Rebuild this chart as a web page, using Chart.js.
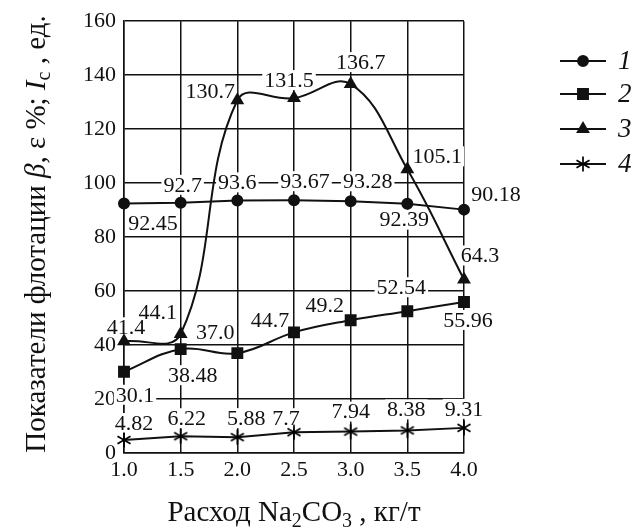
<!DOCTYPE html>
<html>
<head>
<meta charset="utf-8">
<script src="https://cdn.jsdelivr.net/npm/chart.js@4/dist/chart.umd.min.js"></script>
<style>
  html, body { margin: 0; padding: 0; background: #fff; }
  #wrap { width: 636px; height: 530px; }
</style>
</head>
<body>
<div id="wrap"><canvas id="chart" width="636" height="530"></canvas></div>
<script>
// data
const doses = ['1.0', '1.5', '2.0', '2.5', '3.0', '3.5', '4.0'];
const series1 = [92.45, 92.7, 93.6, 93.67, 93.28, 92.39, 90.18];
const series2 = [30.1, 38.48, 37.0, 44.7, 49.2, 52.54, 55.96];
const series3 = [41.4, 44.1, 130.7, 131.5, 136.7, 105.1, 64.3];
const series4 = [4.82, 6.22, 5.88, 7.7, 7.94, 8.38, 9.31];
const seriesNames = ['1', '2', '3', '4'];
const labels1 = ['92.45', '92.7', '93.6', '93.67', '93.28', '92.39', '90.18'];
const labels2 = ['30.1', '38.48', '37.0', '44.7', '49.2', '52.54', '55.96'];
const labels3 = ['41.4', '44.1', '130.7', '131.5', '136.7', '105.1', '64.3'];
const labels4 = ['4.82', '6.22', '5.88', '7.7', '7.94', '8.38', '9.31'];

// where each value label sits relative to its point (px)
const offsets1 = [[29, 20], [2, -18], [0, -18], [11, -19], [17, -20], [-3, 16], [32, -15]];
const offsets2 = [[11, 23], [12, 26], [-22, -21], [-24, -12], [-26, -15], [-6, -24], [4, 18]];
const offsets3 = [[2, -14], [-23, -22], [-27, -9], [-5, -18], [10, -22], [30, -13], [16, -24]];
const offsets4 = [[10, -17], [6, -18], [9, -19], [-8, -14], [0, -20], [-1, -21], [0, -19]];

const serif = '"Liberation Serif", "Times New Roman", serif';

// six-armed asterisk marker
function makeAsterisk() {
  const c = document.createElement('canvas');
  c.width = 18; c.height = 18;
  const g = c.getContext('2d');
  g.strokeStyle = '#000';
  g.lineWidth = 1.7;
  const r = 7.5;
  [90, 30, 150].forEach(a => {
    const rad = a * Math.PI / 180;
    g.beginPath();
    g.moveTo(9 - r * Math.cos(rad), 9 - r * Math.sin(rad));
    g.lineTo(9 + r * Math.cos(rad), 9 + r * Math.sin(rad));
    g.stroke();
  });
  return c;
}
const asterisk = makeAsterisk();

const valueLabels = [labels1, labels2, labels3, labels4];
const valueOffsets = [offsets1, offsets2, offsets3, offsets4];

const labelPlugin = {
  id: 'valueLabels',
  beforeDatasetsDraw(chart) {
    const ctx = chart.ctx;
    ctx.save();
    ctx.font = '22px ' + serif;
    ctx.fillStyle = '#fff';
    chart.data.datasets.forEach((ds, i) => {
      const meta = chart.getDatasetMeta(i);
      meta.data.forEach((pt, j) => {
        const txt = valueLabels[i][j];
        const w = ctx.measureText(txt).width;
        const x = pt.x + valueOffsets[i][j][0];
        const y = pt.y + valueOffsets[i][j][1];
        ctx.fillRect(x - w / 2 - 2, y - 10, w + 4, 20);
      });
    });
    ctx.restore();
  },
  afterDatasetsDraw(chart) {
    const ctx = chart.ctx;
    ctx.save();
    ctx.font = '22px ' + serif;
    ctx.fillStyle = '#111';
    ctx.textAlign = 'center';
    ctx.textBaseline = 'middle';
    chart.data.datasets.forEach((ds, i) => {
      const meta = chart.getDatasetMeta(i);
      meta.data.forEach((pt, j) => {
        const x = pt.x + valueOffsets[i][j][0];
        const y = pt.y + valueOffsets[i][j][1];
        ctx.fillText(valueLabels[i][j], x, y + 1);
      });
    });
    ctx.restore();
  }
};

// draws text made of pieces: [text, font, dy]
function drawPieces(ctx, pieces, cx, y) {
  let total = 0;
  pieces.forEach(p => { ctx.font = p[1]; total += ctx.measureText(p[0]).width; });
  let x = cx - total / 2;
  pieces.forEach(p => {
    ctx.font = p[1];
    ctx.fillText(p[0], x, y + (p[2] || 0));
    x += ctx.measureText(p[0]).width;
  });
}

const decorPlugin = {
  id: 'decor',
  afterDraw(chart) {
    const ctx = chart.ctx;
    const area = chart.chartArea;
    ctx.save();
    ctx.fillStyle = '#111';
    ctx.textAlign = 'left';
    ctx.textBaseline = 'alphabetic';

    const big = '29px ' + serif;
    const bigIt = 'italic 29px ' + serif;
    const sub = '20px ' + serif;

    // x title
    drawPieces(ctx, [
      ['Расход Na', big], ['2', sub, 6], ['CO', big], ['3', sub, 6], [' , кг/т', big]
    ], (area.left + area.right) / 2, 521);

    // y title
    ctx.save();
    ctx.translate(45, 234);
    ctx.rotate(-Math.PI / 2);
    drawPieces(ctx, [
      ['Показатели флотации ', big], ['β', bigIt], [', ε %; ', big],
      ['I', bigIt], ['c', sub, 5], [' , ед.', big]
    ], 0, 0);
    ctx.restore();

    // legend
    const rows = [61, 94, 129, 164];
    const styles = chart.data.datasets.map(d => d.pointStyle);
    const radii = chart.data.datasets.map(d => d.pointRadius);
    rows.forEach((y, i) => {
      ctx.strokeStyle = '#111';
      ctx.lineWidth = 2;
      ctx.beginPath();
      ctx.moveTo(560, y);
      ctx.lineTo(606, y);
      ctx.stroke();
      Chart.helpers.drawPoint(ctx, {
        pointStyle: styles[i], radius: radii[i], rotation: 0, borderWidth: 1
      }, 583, y);
      ctx.fillStyle = '#111';
      ctx.font = 'italic 27px ' + serif;
      ctx.textBaseline = 'middle';
      ctx.fillText(seriesNames[i], 618, y + 1);
    });
    ctx.restore();
  }
};

function makeSet(name, values, style, radius, tension) {
  return {
    label: name,
    data: values,
    borderColor: '#111',
    backgroundColor: '#111',
    pointBackgroundColor: '#111',
    pointBorderColor: '#111',
    borderWidth: 2,
    pointStyle: style,
    pointRadius: radius,
    tension: tension
  };
}

new Chart(document.getElementById('chart'), {
  type: 'line',
  data: {
    labels: doses,
    datasets: [
      makeSet(seriesNames[0], series1, 'circle', 5, 0),
      makeSet(seriesNames[1], series2, 'rect', 7, 0.4),
      makeSet(seriesNames[2], series3, 'triangle', 6, 0.4),
      makeSet(seriesNames[3], series4, asterisk, 7, 0)
    ]
  },
  options: {
    responsive: false,
    animation: false,
    layout: { padding: { left: 0, top: 16, right: 172, bottom: 0 } },
    plugins: {
      legend: { display: false },
      tooltip: { enabled: false }
    },
    scales: {
      x: {
        type: 'category',
        offset: false,
        afterFit: s => { s.height = 77; },
        grid: { color: '#111', lineWidth: 1.5, drawTicks: false, offset: false },
        border: { color: '#111', width: 1.5 },
        ticks: { color: '#111', font: { family: serif, size: 22 }, padding: 4, maxRotation: 0 }
      },
      y: {
        min: 0,
        max: 160,
        afterFit: s => { s.width = 124; },
        grid: { color: '#111', lineWidth: 1.5, drawTicks: false },
        border: { color: '#111', width: 1.5 },
        ticks: { stepSize: 20, color: '#111', font: { family: serif, size: 22 }, padding: 8 }
      }
    }
  },
  plugins: [labelPlugin, decorPlugin]
});
</script>
</body>
</html>
